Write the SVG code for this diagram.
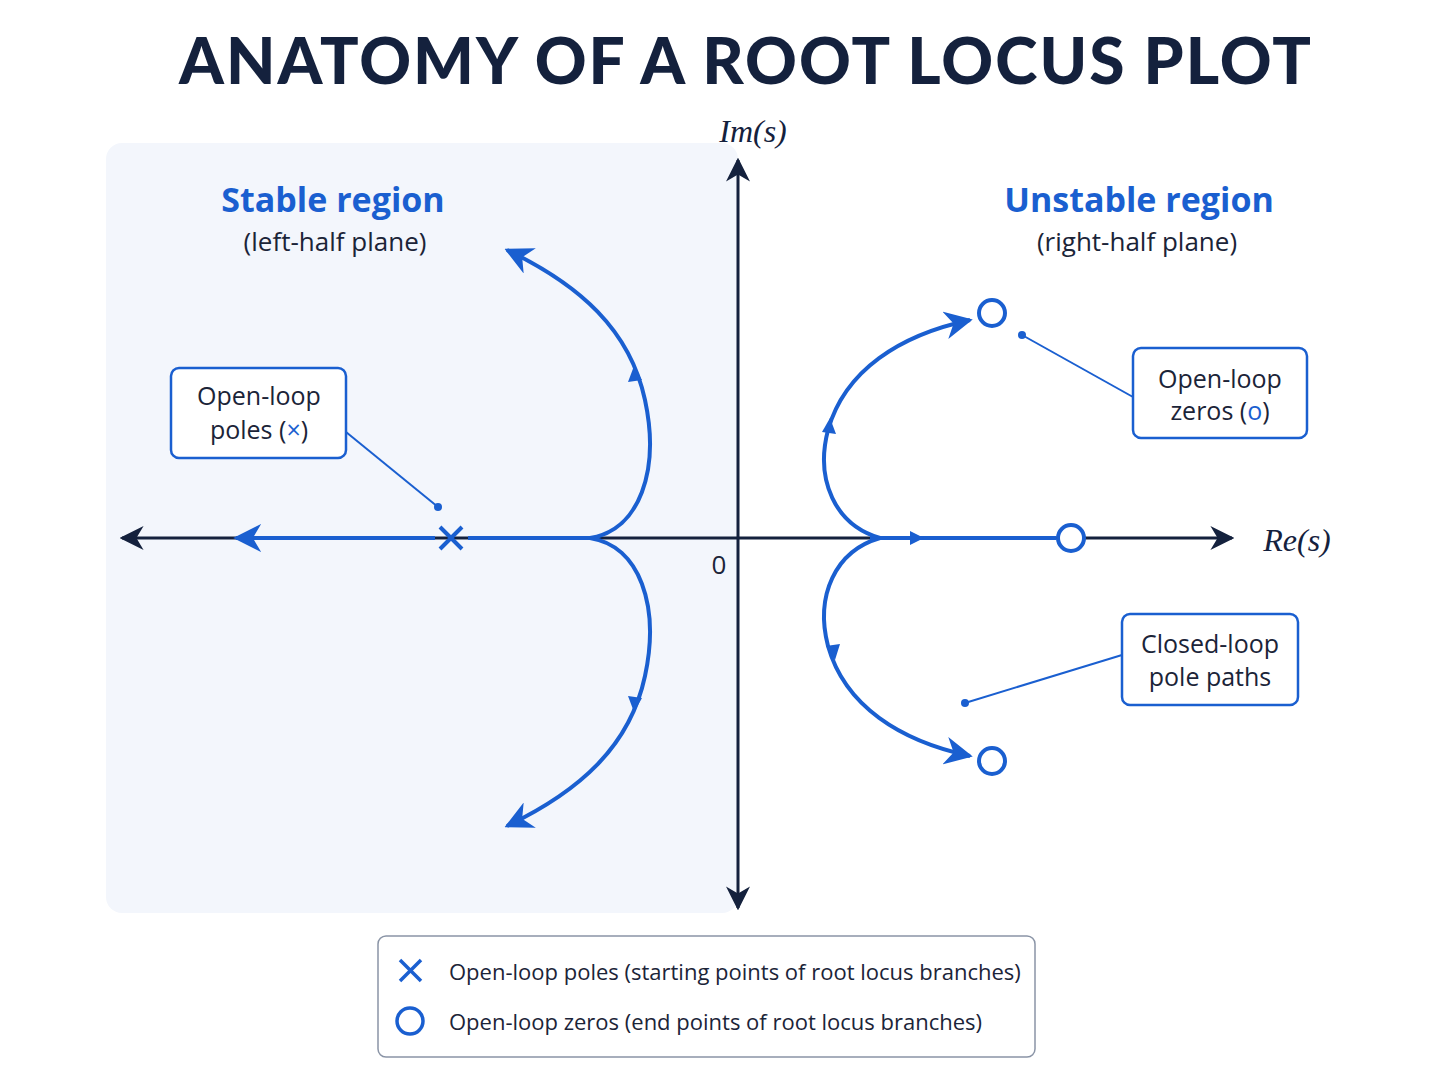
<svg xmlns="http://www.w3.org/2000/svg" width="1448" height="1086" viewBox="0 0 1448 1086">
<defs>
<style>
.t{font-family:"Open Sans","Liberation Sans",sans-serif;fill:#1b2438}
.b{fill:none;stroke:#1a5fd0;stroke-width:4}
.ax{stroke:#14213d;stroke-width:3;fill:none}
.box{fill:#fff;stroke:#1a5fd0;stroke-width:2.5}
.ld{stroke:#1a5fd0;stroke-width:2;fill:none}
.m{font-family:"Liberation Serif","DejaVu Serif",serif;font-style:italic;font-size:32px;fill:#14213d}
</style>
<marker id="ab" viewBox="0 0 10 10" refX="5" refY="5" markerWidth="6" markerHeight="6" orient="auto"><path d="M0,0 L10,5 L0,10 L3,5 Z" fill="#1a5fd0"/></marker>
<marker id="ak" viewBox="0 0 10 10" refX="9" refY="5" markerWidth="8" markerHeight="8" orient="auto-start-reverse"><path d="M0,0 L10,5 L0,10 L3,5 Z" fill="#14213d"/></marker>
<marker id="ae" viewBox="0 0 10 10" refX="9" refY="5" markerWidth="7" markerHeight="7" orient="auto"><path d="M0,0 L10,5 L0,10 L3,5 Z" fill="#1a5fd0"/></marker>
</defs>
<rect width="1448" height="1086" fill="#fff"/>
<text x="746" y="84" text-anchor="middle" font-family="Lato,'Liberation Sans',sans-serif" font-weight="900" font-size="64" fill="#14213d" letter-spacing="2">ANATOMY OF A ROOT LOCUS PLOT</text>
<rect x="106" y="143" width="632" height="770" rx="16" fill="#f3f6fc"/>
<g id="axes">
<line class="ax" x1="122" y1="538" x2="1232" y2="538" marker-start="url(#ak)" marker-end="url(#ak)"/>
<line class="ax" x1="738" y1="160" x2="738" y2="908" marker-start="url(#ak)" marker-end="url(#ak)"/>
<text class="m" x="753" y="142" text-anchor="middle">Im(s)</text>
<text class="m" x="1297" y="551" text-anchor="middle">Re(s)</text>
<text class="t" x="719" y="574" text-anchor="middle" font-size="26">0</text>
</g>
<text x="333" y="212" text-anchor="middle" font-family="'Open Sans','Liberation Sans',sans-serif" font-weight="bold" font-size="34" fill="#1a5fd0">Stable region</text>
<text class="t" x="335" y="251" text-anchor="middle" font-size="26">(left-half plane)</text>
<text x="1139" y="212" text-anchor="middle" font-family="'Open Sans','Liberation Sans',sans-serif" font-weight="bold" font-size="34" fill="#1a5fd0">Unstable region</text>
<text class="t" x="1137" y="251" text-anchor="middle" font-size="26">(right-half plane)</text>
<g id="connectors">
<path class="b" d="M435 538 L236 538" marker-end="url(#ae)"/>
<path class="b" d="M468 538 L590 538"/>
<path class="b" d="M590 538 C640 530 660 470 645 400 C630 330 580 285 507 250" marker-end="url(#ae)"/>
<path class="b" d="M590 538 C640 546 660 606 645 676 C630 746 580 791 507 826" marker-end="url(#ae)"/>
<path class="b" d="M870 538 L1056 538"/>
<path class="b" d="M880 538 C835 525 815 480 828 430 C845 370 900 335 970 320" marker-end="url(#ae)"/>
<path class="b" d="M880 538 C835 551 815 596 828 646 C845 706 900 741 970 756" marker-end="url(#ae)"/>
<path d="M924 538 l-14 -7 v14 z" fill="#1a5fd0"/>
<path d="M634 366 l8 14 l-14 2 z" fill="#1a5fd0"/>
<path d="M634 712 l8 -14 l-14 -2 z" fill="#1a5fd0"/>
<path d="M830 418 l-8 14 l14 2 z" fill="#1a5fd0"/>
<path d="M835 660 l-9 -14 l14 -2 z" fill="#1a5fd0"/>
<path class="ld" d="M346 432 L438 507"/><circle cx="438" cy="507" r="4" fill="#1a5fd0"/>
<path class="ld" d="M1133 397 L1022 335"/><circle cx="1022" cy="335" r="4" fill="#1a5fd0"/>
<path class="ld" d="M1122 655 L965 703"/><circle cx="965" cy="703" r="4" fill="#1a5fd0"/>
</g>
<g id="pole"><path d="M440 527 L462 549 M462 527 L440 549" stroke="#1a5fd0" stroke-width="4"/></g>
<g id="zeros" fill="#fff" stroke="#1a5fd0" stroke-width="4">
<circle cx="1071" cy="538" r="13"/><circle cx="992" cy="313" r="13"/><circle cx="992" cy="761" r="13"/>
</g>
<g id="poles-label"><rect class="box" x="171" y="368" width="175" height="90" rx="8"/>
<text class="t" x="259" y="405" text-anchor="middle" font-size="25">Open-loop</text>
<text class="t" x="259" y="439" text-anchor="middle" font-size="25">poles (<tspan fill="#1a5fd0">×</tspan>)</text></g>
<g id="zeros-label"><rect class="box" x="1133" y="348" width="174" height="90" rx="8"/>
<text class="t" x="1220" y="388" text-anchor="middle" font-size="25">Open-loop</text>
<text class="t" x="1220" y="420" text-anchor="middle" font-size="25">zeros (<tspan fill="#1a5fd0">o</tspan>)</text></g>
<g id="paths-label"><rect class="box" x="1122" y="614" width="176" height="91" rx="8"/>
<text class="t" x="1210" y="653" text-anchor="middle" font-size="25">Closed-loop</text>
<text class="t" x="1210" y="686" text-anchor="middle" font-size="25">pole paths</text></g>
<g id="legend"><rect x="378" y="936" width="657" height="121" rx="8" fill="#fff" stroke="#8a94a6" stroke-width="1.5"/>
<path d="M400 960 L421 981 M421 960 L400 981" stroke="#1a5fd0" stroke-width="3.5"/>
<text class="t" x="449" y="980" font-size="22">Open-loop poles (starting points of root locus branches)</text>
<circle cx="410" cy="1021" r="13" fill="none" stroke="#1a5fd0" stroke-width="3.5"/>
<text class="t" x="449" y="1030" font-size="22">Open-loop zeros (end points of root locus branches)</text></g>
</svg>
